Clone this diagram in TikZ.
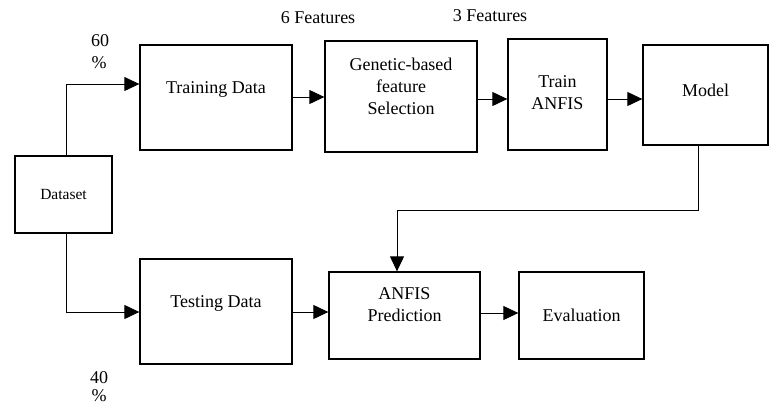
\documentclass[tikz,border=0pt]{standalone}
\usepackage{fontspec}
\setmainfont{Liberation Serif}
\usetikzlibrary{arrows.meta}
\begin{document}
\begin{tikzpicture}[x=1pt,y=-1pt,
  box/.style={draw=black, line width=1.3pt, rectangle, inner sep=0pt},
  txt/.style={inner sep=0pt, align=center, font=\fontsize{18}{22}\selectfont},
  arr/.style={draw=black, line width=1pt, -{Triangle[length=15pt,width=14pt]}},
  lin/.style={draw=black, line width=1pt}]
\useasboundingbox (0,0) rectangle (774,405);
% boxes
\node[box, minimum width=97pt,  minimum height=77pt]  (ds) at (63.5,194.5) {};
\node[box, minimum width=152pt, minimum height=105pt] (tr) at (216,97.5) {};
\node[box, minimum width=152pt, minimum height=105pt] (te) at (216,311.5) {};
\node[box, minimum width=152pt, minimum height=111pt] (ga) at (401,96.5) {};
\node[box, minimum width=99pt,  minimum height=111pt] (ta) at (557.5,94.5) {};
\node[box, minimum width=125pt, minimum height=100pt] (mo) at (705.5,95) {};
\node[box, minimum width=151pt, minimum height=87pt]  (ap) at (404.5,315.5) {};
\node[box, minimum width=125pt, minimum height=87pt]  (ev) at (581.5,315.5) {};
% box texts
\node[txt, font=\fontsize{15.5}{18}\selectfont] (dst) at (ds.center) {Dataset};
\node[txt] (trt) at ([yshift=8.5pt]tr.center) {Training Data};
\node[txt] (tet) at ([yshift=8.5pt]te.center) {Testing Data};
\node[txt] (gat) at ([yshift=10.5pt]ga.center) {Genetic-based\\feature\\Selection};
\node[txt] (tat) at ([yshift=1.5pt]ta.center) {Train\\ANFIS};
\node[txt] (mot) at ([yshift=5pt]mo.center) {Model};
\node[txt] (apt) at ([yshift=10.5pt]ap.center) {ANFIS\\Prediction};
\node[txt] (evt) at (ev.center) {Evaluation};
% free labels
\node[txt] (f6) at (318,18) {6 Features};
\node[txt] (f3) at (490,16) {3 Features};
\node[txt] (p60) at (100,41) {60};
\node[txt] (pc1) at (99,63) {\%};
\node[txt] (p40) at (99,378) {40};
\node[txt] (pc2) at (99,396) {\%};
% connectors
\draw[arr] ([xshift=2.5pt]ds.north) |- ([yshift=13.5pt]tr.west);
\draw[arr] ([xshift=2.5pt]ds.south) |- ([yshift=-0.5pt]te.west);
\draw[arr] ([yshift=0.5pt]tr.east) -- ([yshift=0.5pt]tr.east -| ga.west);
\draw[arr] ([yshift=-2.5pt]ga.east) -- ([yshift=-2.5pt]ga.east -| ta.west);
\draw[arr] ([yshift=-4.5pt]ta.east) -- ([yshift=-4.5pt]ta.east -| mo.west);
\draw[arr] ([xshift=-7.5pt]mo.south) -- ++(0,65) -| ([xshift=-7.5pt]ap.north);
\draw[arr] ([yshift=-0.5pt]te.east) -- ([yshift=-0.5pt]te.east -| ap.west);
\draw[arr] ([yshift=2.5pt]ap.east) -- ([yshift=2.5pt]ap.east -| ev.west);
\end{tikzpicture}
\end{document}
